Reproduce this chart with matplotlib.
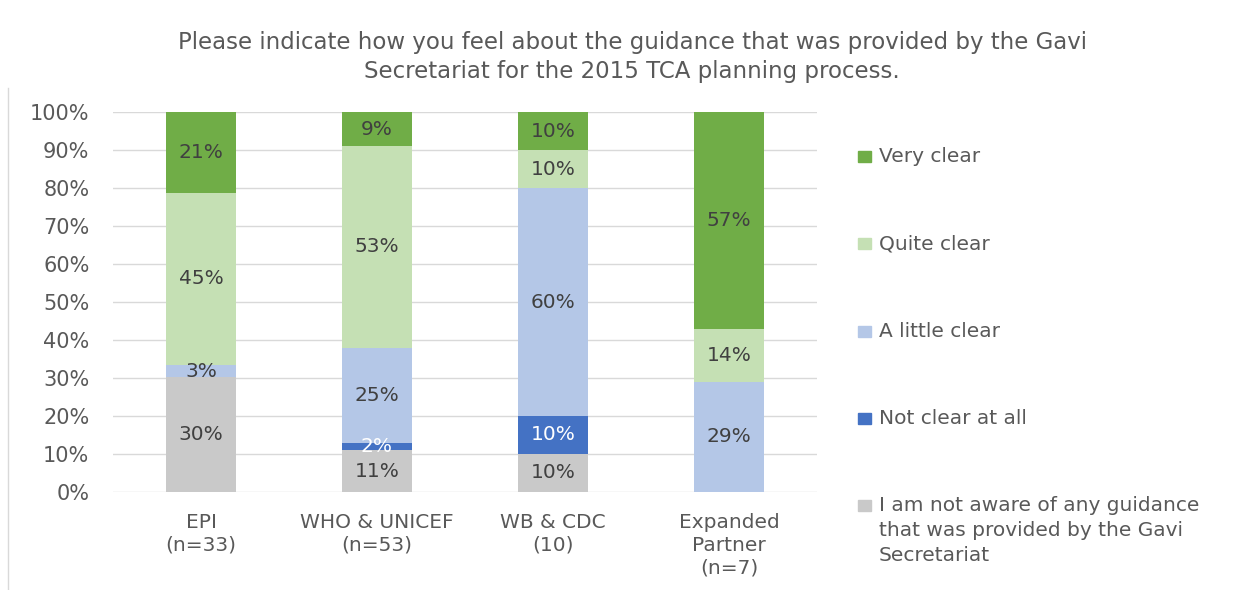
import numpy as np
import matplotlib.pyplot as plt
from matplotlib.patches import Rectangle
from matplotlib.lines import Line2D

groups = ["EPI\n(n=33)", "WHO & UNICEF\n(n=53)", "WB & CDC\n(10)", "Expanded\nPartner\n(n=7)"]
series = ["I am not aware of any guidance\nthat was provided by the Gavi\nSecretariat",
          "Not clear at all", "A little clear", "Quite clear", "Very clear"]
not_aware = [30, 11, 10, 0]
not_clear = [0, 2, 10, 0]
little_clear = [3, 25, 60, 29]
quite_clear = [45, 53, 10, 14]
very_clear = [21, 9, 10, 57]
colors = ["#C9C9C9", "#4472C4", "#B4C7E7", "#C5E0B4", "#70AD47"]
label_colors = ["#404040", "white", "#404040", "#404040", "#404040"]

title = ("Please indicate how you feel about the guidance that was provided by the Gavi\n"
         "Secretariat for the 2015 TCA planning process.")

plt.rcParams['font.family'] = ['DejaVu Sans']

data = np.array([not_aware, not_clear, little_clear, quite_clear, very_clear], dtype=float)
# 100% stacked, like the original
shares = data / data.sum(axis=0) * 100

fig = plt.figure(figsize=(12.55, 5.9), dpi=100)
W, H = 1255, 590
ax = fig.add_axes([113 / W, 98 / H, 704 / W, 380 / H])

x = np.arange(len(groups))
bottom = np.zeros(len(groups))
for i in range(len(series)):
    ax.bar(x, shares[i], 0.4, bottom=bottom, color=colors[i], zorder=2)
    for j in range(len(groups)):
        if data[i, j] > 0:
            ax.text(x[j], bottom[j] + shares[i, j] / 2, f"{int(data[i, j])}%",
                    ha="center", va="center", fontsize=14.5, color=label_colors[i], zorder=3)
    bottom += shares[i]

ax.set_xlim(-0.5, 3.5)
ax.set_ylim(0, 100)
ax.set_yticks(np.arange(0, 101, 10))
ax.set_yticklabels([f"{v}%" for v in range(0, 101, 10)], fontsize=15, color="#595959")
ax.set_xticks(x)
ax.set_xticklabels(groups, fontsize=14.5, color="#595959", va="top", linespacing=1.25)
ax.tick_params(axis="x", length=0, pad=15)
ax.tick_params(axis="y", length=0, pad=17)
ax.grid(axis="y", color="#D9D9D9", lw=1, zorder=0)
for s in ax.spines.values():
    s.set_visible(False)

fig.text(632 / W, 1 - 57 / H, title, ha="center", va="center", fontsize=16.5,
         color="#595959", linespacing=1.3)

# legend, drawn by hand to keep the spacing of the original
ys = [156, 243, 331, 418, 505]
for k, i in enumerate(range(len(series) - 1, -1, -1)):
    y = ys[k]
    fig.add_artist(Rectangle((858 / W, 1 - (y + 6) / H), 13 / W, 11 / H,
                             transform=fig.transFigure, color=colors[i]))
    fig.text(879 / W, 1 - (y - 9) / H, series[i], ha="left", va="top", fontsize=14.5,
             color="#595959", linespacing=1.4)

fig.add_artist(Line2D([8 / W, 8 / W], [0, 1 - 88 / H], transform=fig.transFigure,
                      color="#D9D9D9", lw=1))

fig.savefig("out.png", dpi=100)
